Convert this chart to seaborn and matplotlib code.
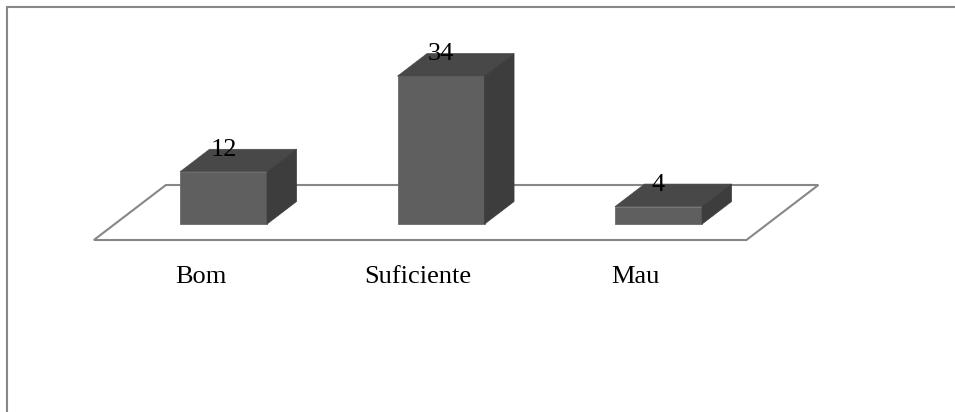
import numpy as np
import matplotlib
matplotlib.use('Agg')
import matplotlib.pyplot as plt
import seaborn as sns
from matplotlib.patches import Polygon, Rectangle

categories = ['Bom', 'Suficiente', 'Mau']
values = [12, 34, 4]

FRONT = '#5f5f5f'
TOP = '#484848'
SIDE = '#3d3d3d'
GRID = '#878787'

# depth of the floor in pixels (oblique projection), bars take part of it
depth = np.array([72.0, 55.0])
floor_front, floor_back = -0.29, 0.71
bar_depth = 0.41

sns.set_style('white')
plt.rcParams['font.family'] = ['Liberation Serif', 'DejaVu Serif']

fig = plt.figure(figsize=(9.55, 4.12), dpi=100)
ax = fig.add_axes([0, 0, 1, 1])
sns.barplot(x=categories, y=values, color=FRONT, saturation=1, width=0.4,
            edgecolor='#6b6b6b', linewidth=0.6, ax=ax, zorder=3)
ax.set_xlim(-1.0276, 3.363)
ax.set_ylim(-43.2, 51.5)
ax.axis('off')

to_disp = ax.transData.transform
to_data = ax.transData.inverted().transform


def shifted(points, t):
    pts = to_disp(np.array(points, dtype=float)) + depth * t
    return to_data(pts)


# floor of the 3d chart
n = len(categories)
front = shifted([(-0.5, 0), (n - 0.5, 0)], floor_front)
back = shifted([(n - 0.5, 0), (-0.5, 0)], floor_back)
ax.add_patch(Polygon(np.vstack([front, back]), closed=True, facecolor='white',
                     edgecolor=GRID, linewidth=1.5, zorder=1))

# top and side faces of each bar
for p in list(ax.patches)[:n]:
    if not isinstance(p, Rectangle):
        continue
    x0, w, h = p.get_x(), p.get_width(), p.get_height()
    x1 = x0 + w
    top = np.vstack([[(x0, h), (x1, h)], shifted([(x1, h), (x0, h)], bar_depth)])
    side = np.vstack([[(x1, 0), (x1, h)], shifted([(x1, h), (x1, 0)], bar_depth)])
    ax.add_patch(Polygon(top, closed=True, facecolor=TOP, edgecolor=TOP, linewidth=0.5, zorder=3))
    ax.add_patch(Polygon(side, closed=True, facecolor=SIDE, edgecolor=SIDE, linewidth=0.5, zorder=3))

for i, (cat, v) in enumerate(zip(categories, values)):
    ax.annotate(str(v), xy=(i, v), xytext=(0, 16), textcoords='offset pixels',
                ha='center', va='baseline', fontsize=19, color='black', zorder=5)
    ax.annotate(cat, xy=(i, 0), xytext=(-23, -59), textcoords='offset pixels',
                ha='center', va='baseline', fontsize=19, color='black')

# chart area border
fig.patches.append(Rectangle((7 / 955, -0.05), 1.1, 1.05 - 6.5 / 412, transform=fig.transFigure,
                             fill=False, edgecolor=GRID, linewidth=1.5))

fig.savefig('out.png', dpi=100)
